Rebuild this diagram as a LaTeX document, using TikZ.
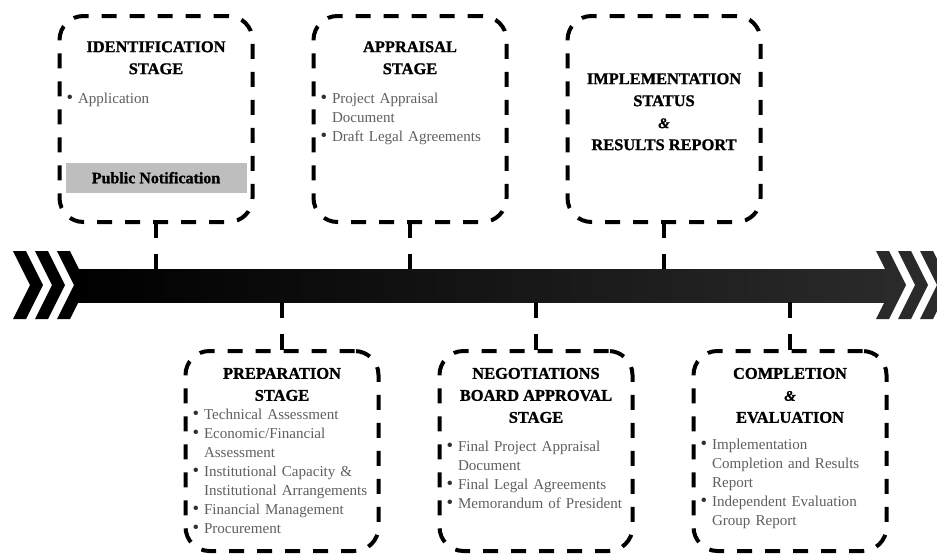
\documentclass[tikz,border=0pt]{standalone}
\usepackage{fontspec}
\setmainfont{Liberation Serif}
\newfontfamily\heavyfont[UprightFont={* Bold}, FakeBold=1.2]{Liberation Serif}
\usetikzlibrary{positioning}

\definecolor{listgray}{HTML}{5F5F5F}
\definecolor{dotgray}{HTML}{303030}
\definecolor{noticegray}{HTML}{BEBEBE}
\definecolor{chevgray}{HTML}{2A2A2A}

\newcommand{\bitem}[1]{\hyphenpenalty=10000\hangindent=8.5pt\hangafter=1\noindent\makebox[8.5pt][l]{\textcolor{dotgray}{\fontsize{14}{10}\selectfont\textbullet}}#1\par}
\newcommand{\amper}{{\fontsize{11}{16}\selectfont\bfseries\itshape\&}}

\tikzset{
  stagebox/.style={draw, line width=3pt, dash pattern=on 11.25pt off 9.75pt,
    rounded corners=18pt, minimum width=144.75pt, inner sep=0pt, outer sep=0pt},
  stagetitle/.style={align=center, inner sep=0pt,
    font=\fontsize{12.3}{16.5}\selectfont\heavyfont},
  stagelist/.style={text width=134pt, align=left, inner sep=0pt, text=listgray,
    font=\fontsize{11.3}{14.25}\selectfont},
  notice/.style={fill=noticegray, minimum width=135.75pt, minimum height=22.5pt,
    inner sep=0pt, font=\fontsize{12}{13}\selectfont\heavyfont},
  bar/.style={minimum width=612.75pt, minimum height=24.75pt, inner sep=0pt,
    outer sep=0pt, left color=black, right color=chevgray},
  link/.style={line width=3pt, dash pattern=on 12pt off 12pt},
}

\begin{document}
\begin{tikzpicture}[x=0.75pt,y=-0.75pt]
  \clip (0,0) rectangle (937,557);
  % Time line
  \node[bar] (bar) at (484.5,285.5) {};
  \foreach \cx in {13,35,57}
    \fill (\cx,251) -- ++(13,0) -- ++(17,34) -- ++(-17,34) -- ++(-13,0) -- ++(17,-34) -- cycle;
  \foreach \cx in {876,898,920}
    \fill[chevgray] (\cx,251) -- ++(13,0) -- ++(17,34) -- ++(-17,34) -- ++(-13,0) -- ++(17,-34) -- cycle;

  % Upper stages
  \node[stagebox, minimum height=154.5pt] (idbox) at (156,119) {};
  \node[stagetitle, below=18.75pt of idbox.north] (idtitle) {IDENTIFICATION\\STAGE};
  \node[stagelist, below=13.5pt of idtitle] (idlist) {\bitem{Application}};
  \node[notice, above=21.75pt of idbox.south] (idnote) {Public Notification};

  \node[stagebox, minimum height=154.5pt] (apbox) at (410,119) {};
  \node[stagetitle, below=18.75pt of apbox.north] (aptitle) {APPRAISAL\\STAGE};
  \node[stagelist, below=13.5pt of aptitle] (aplist)
    {\bitem{Project Appraisal\newline Document}\bitem{Draft Legal Agreements}};

  \node[stagebox, minimum height=154.5pt] (isbox) at (664,119) {};
  \node[stagetitle, below=42.75pt of isbox.north] (istitle)
    {IMPLEMENTATION\\STATUS\\\amper\\RESULTS REPORT};

  % Lower stages
  \node[stagebox, minimum height=150pt] (prbox) at (282,451) {};
  \node[stagetitle, below=12.5pt of prbox.north] (prtitle) {PREPARATION\\STAGE};
  \node[stagelist, below=6pt of prtitle] (prlist)
    {\bitem{Technical Assessment}\bitem{Economic/Financial\newline Assessment}%
     \bitem{Institutional Capacity \&\newline Institutional Arrangements}%
     \bitem{Financial Management}\bitem{Procurement}};

  \node[stagebox, minimum height=150pt] (ngbox) at (536,451) {};
  \node[stagetitle, below=12.5pt of ngbox.north] (ngtitle)
    {NEGOTIATIONS\\BOARD APPROVAL\\STAGE};
  \node[stagelist, below=13.5pt of ngtitle] (nglist)
    {\bitem{Final Project Appraisal\newline Document}\bitem{Final Legal Agreements}%
     \bitem{Memorandum of President}};

  \node[stagebox, minimum height=150pt] (cebox) at (790,451) {};
  \node[stagetitle, below=12.5pt of cebox.north] (cetitle) {COMPLETION\\\amper\\EVALUATION};
  \node[stagelist, below=11.25pt of cetitle] (celist)
    {\bitem{Implementation\newline Completion and Results\newline Report}%
     \bitem{Independent Evaluation\newline Group Report}};

  % Links to the time line
  \foreach \b in {idbox,apbox,isbox}
    \draw[link] (\b.south) -- (\b.south |- bar.north);
  \foreach \b in {prbox,ngbox,cebox}
    \draw[link] (bar.south -| \b.north) -- (\b.north);
\end{tikzpicture}
\end{document}
